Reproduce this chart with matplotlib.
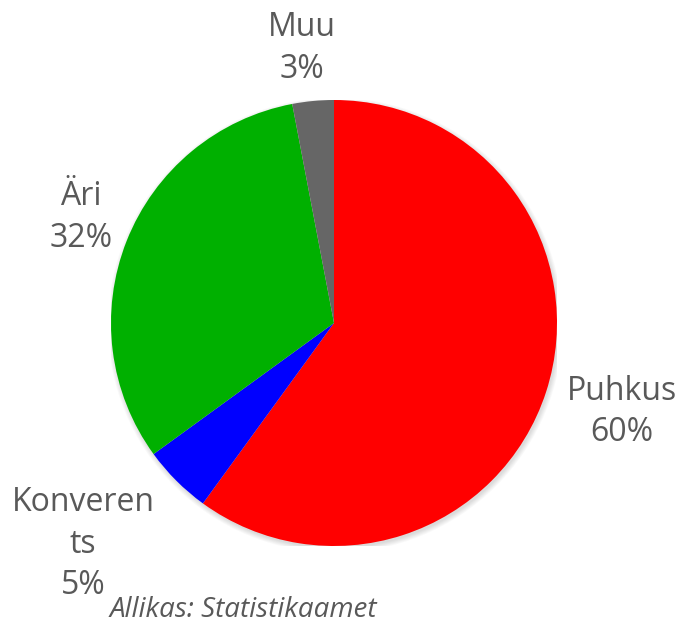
import numpy as np
import matplotlib
matplotlib.use('Agg')
import matplotlib.pyplot as plt
from matplotlib.patches import Circle

labels = ['Puhkus', 'Konveren\nts', 'Äri', 'Muu']
values = [60, 5, 32, 3]
colors = ['#FF0000', '#0000FF', '#00B000', '#666666']
label_dist = [1.35, 1.50, 1.23, 1.24]   # how far out each label sits
label_turn = [0.8, -3.6, -1.1, 1.3]     # small angle nudge (deg)
source = 'Allikas: Statistikaamet'

plt.rcParams['font.family'] = ['Open Sans', 'DejaVu Sans']
text_color = '#595959'

fig = plt.figure(figsize=(6.83, 6.25), dpi=100)
W, H = 683, 625
cx, cy, r = 334, 323, 223
ax = fig.add_axes([(cx - r) / W, (H - cy - r) / H, 2 * r / W, 2 * r / H])

# soft shadow under the pie
for k in range(6):
    ax.add_patch(Circle((0.006, -0.010), 1.0 + 0.004 * k, color='k',
                        alpha=0.025, lw=0, zorder=0))

wedges, _ = ax.pie(values, colors=colors, startangle=90, counterclock=False,
                   radius=1.0, wedgeprops=dict(linewidth=0, zorder=2))
ax.set_xlim(-1, 1)
ax.set_ylim(-1, 1)
ax.set_aspect('auto')
ax.axis('off')

total = sum(values)
for lab, v, w, d, t in zip(labels, values, wedges, label_dist, label_turn):
    ang = np.deg2rad((w.theta1 + w.theta2) / 2 + t)
    pct = '%d%%' % round(100 * v / total)
    ax.text(d * np.cos(ang), d * np.sin(ang), lab + '\n' + pct,
            ha='center', va='center', fontsize=23, color=text_color,
            linespacing=1.35, clip_on=False)

fig.text(110 / W, 1 - 617 / H, source, ha='left', va='baseline',
         fontsize=20, style='italic', color=text_color)

fig.savefig('out.png', dpi=100)
